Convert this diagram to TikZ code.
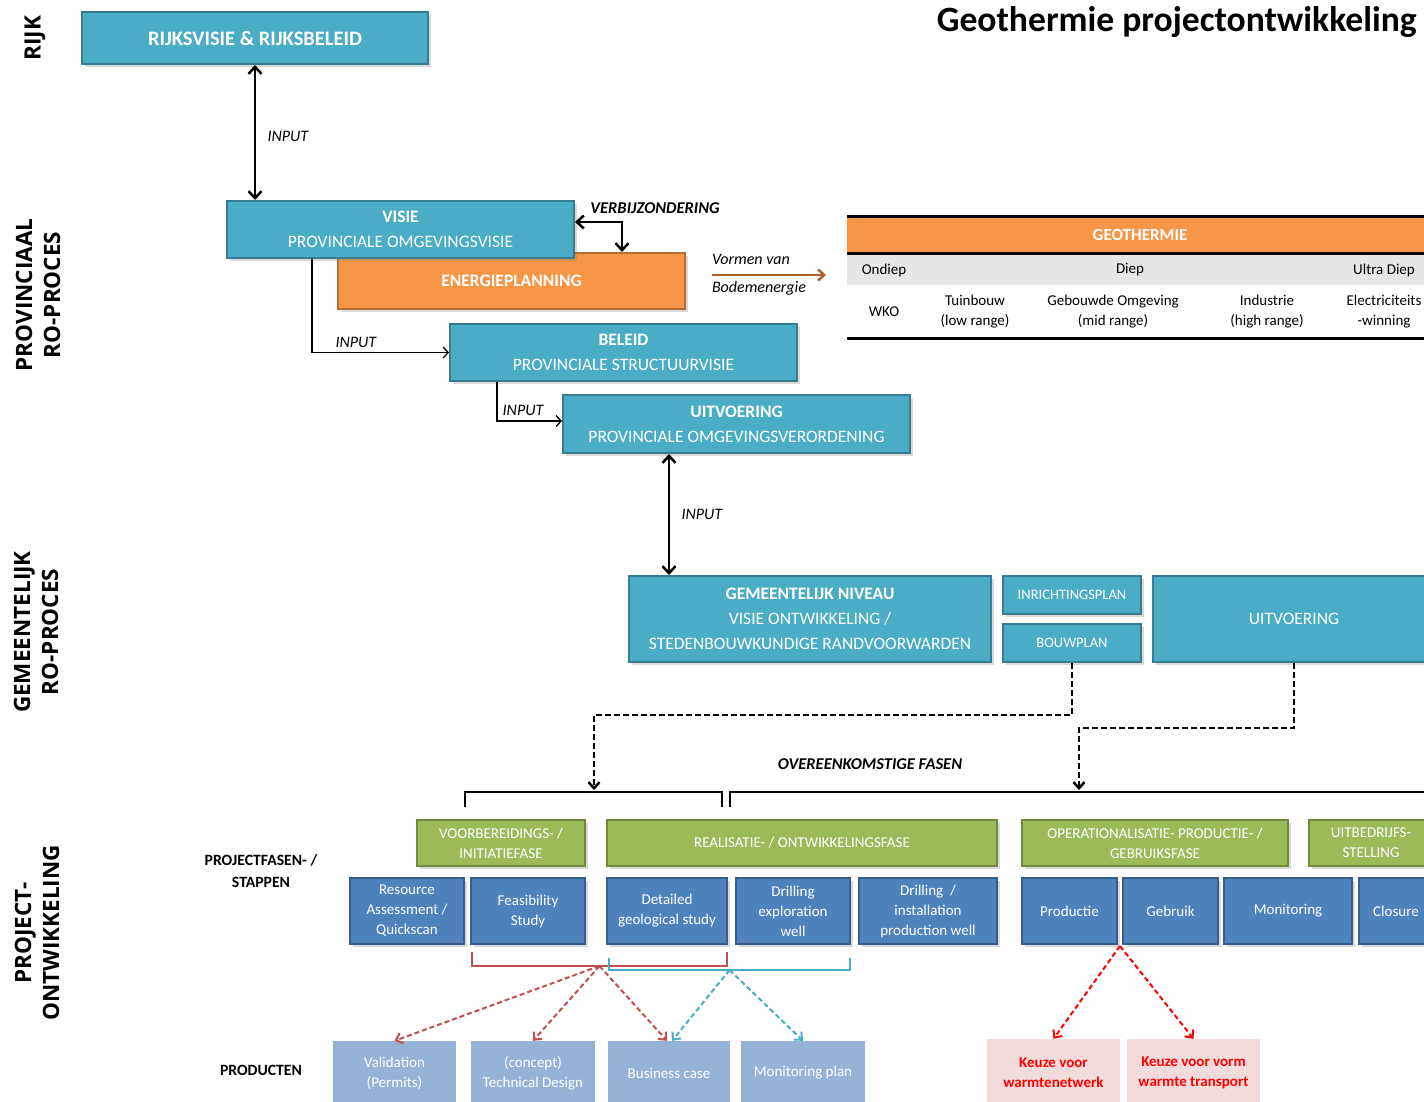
\documentclass[tikz,border=0pt]{standalone}
\usepackage{fontspec}
\setmainfont{Carlito}
\newfontfamily\sidefont{Open Sans}
\usepackage{tikz}
\usetikzlibrary{arrows.meta, shadows}

\definecolor{tealfill}{HTML}{4BACC6}
\definecolor{tealline}{HTML}{357D91}
\definecolor{orangefill}{HTML}{F79646}
\definecolor{orangeline}{HTML}{B66D31}
\definecolor{greenfill}{HTML}{9BBB59}
\definecolor{greenline}{HTML}{71893F}
\definecolor{bluefill}{HTML}{4F81BD}
\definecolor{blueline}{HTML}{385D8A}
\definecolor{prodfill}{HTML}{95B3D7}
\definecolor{keuzefill}{HTML}{F2DCDB}
\definecolor{redbrk}{HTML}{C0504D}
\definecolor{bodem}{HTML}{B0602A}
\definecolor{greyrow}{HTML}{E6E6E6}

\newcommand{\pxfont}[2]{\fontsize{#1}{#2}\selectfont}

\begin{document}
\begin{tikzpicture}[
  x=1pt, y=-1pt,
  box/.style={draw, line width=2pt, inner sep=0pt, align=center, text=white,
    drop shadow={shadow xshift=2.5pt, shadow yshift=-2.5pt, opacity=0.3}},
  tealbox/.style={box, fill=tealfill, draw=tealline, font=\pxfont{17.5}{25}},
  orangebox/.style={box, fill=orangefill, draw=orangeline, font=\bfseries\pxfont{17.5}{25}},
  fasebox/.style={box, fill=greenfill, draw=greenline, minimum height=46pt, font=\pxfont{15}{20}},
  stapbox/.style={box, fill=bluefill, draw=blueline, minimum height=66pt, font=\pxfont{15}{20}},
  prodbox/.style={fill=prodfill, inner sep=0pt, align=center, text=white, minimum height=64pt, font=\pxfont{15}{20}},
  keuzebox/.style={fill=keuzefill, inner sep=0pt, align=center, text=red, minimum height=68pt, font=\bfseries\pxfont{15}{20}},
  side/.style={rotate=90, align=center, font=\sidefont\bfseries\pxfont{22.5}{28}},
  lbl/.style={font=\itshape\pxfont{16}{20}},
  rowlbl/.style={align=center, font=\bfseries\pxfont{15.7}{22}},
  cell/.style={align=center, font=\pxfont{15}{20}},
  dblarrow/.style={{Straight Barb[length=7pt,width=13pt]}-{Straight Barb[length=7pt,width=13pt]}, line width=2.5pt},
  inputarrow/.style={-{Straight Barb[length=5pt,width=11pt]}, line width=1.3pt},
  dasharrow/.style={-{Straight Barb[length=6pt,width=11pt]}, line width=2.5pt, dash pattern=on 6pt off 3pt},
  reddash/.style={-{Straight Barb[length=6pt,width=11pt]}, line width=2pt, dash pattern=on 5pt off 3pt, draw=redbrk},
  bluedash/.style={reddash, draw=tealfill},
  keuzedash/.style={reddash, draw=red},
]
\clip (0,0) rectangle (1424,1101);

% Title
\node[anchor=east, inner sep=0pt, font=\bfseries\pxfont{35.6}{40}] (title) at (1417,22) {Geothermie projectontwikkeling};

% Side labels
\node[side] (rijklbl) at (35,38) {RIJK};
\node[side] (provlbl) at (38,295) {PROVINCIAAL\\RO-PROCES};
\node[side] (gemlbl) at (36,632) {GEMEENTELIJK\\RO-PROCES};
\node[side] (projlbl) at (37,933) {PROJECT-\\ONTWIKKELING};

% Rijk and provincie
\node[tealbox, minimum width=346pt, minimum height=52pt, font=\bfseries\pxfont{20.5}{25}] (rijk) at (255,38) {RIJKSVISIE \& RIJKSBELEID};
\node[orangebox, minimum width=347pt, minimum height=56pt] (energie) at (511.5,281) {ENERGIEPLANNING};
\node[tealbox, minimum width=347pt, minimum height=57pt] (visie) at (400.5,229.5) {\textbf{VISIE}\\PROVINCIALE OMGEVINGSVISIE};
\node[tealbox, minimum width=347pt, minimum height=57pt] (beleid) at (623.5,352.5) {\textbf{BELEID}\\PROVINCIALE STRUCTUURVISIE};
\node[tealbox, minimum width=347pt, minimum height=58pt] (uitv) at (736.5,424) {\textbf{UITVOERING}\\PROVINCIALE OMGEVINGSVERORDENING};

% Gemeente
\node[tealbox, minimum width=362pt, minimum height=86pt] (gem) at (810,619) {\textbf{GEMEENTELIJK NIVEAU}\\VISIE ONTWIKKELING /\\STEDENBOUWKUNDIGE RANDVOORWARDEN};
\node[tealbox, minimum width=138pt, minimum height=38pt, font=\pxfont{14.5}{18}] (inr) at (1072,595) {INRICHTINGSPLAN};
\node[tealbox, minimum width=138pt, minimum height=38pt, font=\pxfont{14.5}{18}] (bouw) at (1072,643) {BOUWPLAN};
\node[tealbox, minimum width=282pt, minimum height=86pt] (uitv2) at (1294,619) {UITVOERING};

% Arrows
\draw[dblarrow] (rijk.south) -- (rijk.south |- visie.north) node[lbl, pos=0.53, right=8pt] (in1) {INPUT};
\draw[dblarrow] ([yshift=7.5pt]visie.east) -| ([xshift=110.5pt]energie.north);
\node[font=\bfseries\itshape\pxfont{16.5}{20}] (verb) at (655,208) {VERBIJZONDERING};
\draw[inputarrow] ([xshift=-88.5pt]visie.south) |- (beleid.west) node[lbl, pos=0.66, above=1pt] (in2) {INPUT};
\draw[inputarrow] ([xshift=-126.5pt]beleid.south) |- ([yshift=3pt]uitv.west) node[lbl, pos=0.7, above=1pt] (in3) {INPUT};
\draw[dblarrow] ([xshift=-67.5pt]uitv.south) -- ([xshift=-67.5pt]uitv.south |- gem.north) node[lbl, midway, right=8pt] (in4) {INPUT};

% Vormen van bodemenergie
\coordinate (bodemA) at (712,275);
\coordinate (bodemB) at (826,275);
\draw[-{Straight Barb[length=6pt,width=11pt]}, line width=2.5pt, bodem] (bodemA) -- (bodemB);
\node[lbl] (vormen) at (751,259) {Vormen van};
\node[lbl] (bodemlbl) at (759,288) {Bodemenergie};

% Geothermie table
\fill[orangefill] (847,217) rectangle (1440,253);
\fill[greyrow] (847,254) rectangle (1440,285);
\draw[line width=3pt] (847,216) -- (1440,216);
\draw[line width=3pt] (847,253) -- (1440,253);
\draw[line width=3pt] (847,338) -- (1440,338);
\node[font=\bfseries\pxfont{17}{20}, text=white] (geo) at (1140,235) {GEOTHERMIE};
\node[cell] (ondiep) at (884,270) {Ondiep};
\node[cell] (diep) at (1130,270) {Diep};
\node[cell] (ultra) at (1384,270) {Ultra Diep};
\node[cell] (wko) at (884,312) {WKO};
\node[cell] (tuin) at (975,312) {Tuinbouw\\(low range)};
\node[cell] (gebouwd) at (1113,312) {Gebouwde Omgeving\\(mid range)};
\node[cell] (industrie) at (1267,312) {Industrie\\(high range)};
\node[cell] (elec) at (1384,312) {Electriciteits\\-winning};

% Overeenkomstige fasen
\coordinate (faseL) at (594,790);
\coordinate (faseR) at (1079,790);
\draw[dasharrow] (bouw.south) -- ++(0,52) -| (faseL);
\draw[dasharrow] (uitv2.south) -- ++(0,65) -| (faseR);
\node[font=\bfseries\itshape\pxfont{16.5}{20}] (overeen) at (870,764) {OVEREENKOMSTIGE FASEN};
\draw[line width=2.5pt] (465,807) -- (465,792) -- (722,792) -- (722,807);
\draw[line width=2.5pt] (730,807) -- (730,792) -- (1440,792);

% Projectfasen
\node[rowlbl] (faselbl) at (261,871) {PROJECTFASEN- /\\STAPPEN};
\node[fasebox, minimum width=168pt] (voorb) at (501,843) {VOORBEREIDINGS- /\\INITIATIEFASE};
\node[fasebox, minimum width=390pt] (real) at (802,843) {REALISATIE- / ONTWIKKELINGSFASE};
\node[fasebox, minimum width=266pt] (oper) at (1155,843) {OPERATIONALISATIE- PRODUCTIE- /\\GEBRUIKSFASE};
\node[fasebox, minimum width=124pt] (uitbedr) at (1371,843) {UITBEDRIJFS-\\STELLING};

% Stappen
\node[stapbox, minimum width=114pt] (res) at (407,911) {Resource\\Assessment /\\Quickscan};
\node[stapbox, minimum width=114pt] (feas) at (528,911) {Feasibility\\Study};
\node[stapbox, minimum width=120pt] (det) at (667,911) {Detailed\\geological study};
\node[stapbox, minimum width=114pt] (drill1) at (793,911) {Drilling\\exploration\\well};
\node[stapbox, minimum width=138pt] (drill2) at (928,911) {Drilling~ /\\installation\\production well};
\node[stapbox, minimum width=95pt] (prod) at (1069.5,911) {Productie};
\node[stapbox, minimum width=95pt] (gebr) at (1170.5,911) {Gebruik};
\node[stapbox, minimum width=128pt] (mon) at (1288,911) {Monitoring};
\node[stapbox, minimum width=74pt] (clos) at (1396,911) {Closure};

% Producten
\node[rowlbl] (prodlbl) at (261,1070) {PRODUCTEN};
\node[prodbox, minimum width=123pt] (valid) at (394.5,1073) {Validation\\(Permits)};
\node[prodbox, minimum width=124pt] (tech) at (533,1073) {(concept)\\Technical Design};
\node[prodbox, minimum width=122pt] (bus) at (669,1073) {Business case};
\node[prodbox, minimum width=124pt] (monp) at (803,1073) {Monitoring plan};
\node[keuzebox, minimum width=133pt] (keuze1) at (1053.5,1073) {Keuze voor\\warmtenetwerk};
\node[keuzebox, minimum width=133pt] (keuze2) at (1193.5,1073) {Keuze voor vorm\\warmte transport};

% Brackets and dashed links
\coordinate (redmid) at (599.5,966);
\coordinate (bluemid) at (729.5,970);
\draw[redbrk, line width=2pt] (472,952) |- (redmid) -| (727,952);
\draw[tealfill, line width=2pt] (609,958) |- (bluemid) -| (850,958);
\draw[reddash] (redmid) -- (valid.north);
\draw[reddash] (redmid) -- (tech.north);
\draw[reddash] (redmid) -- ([xshift=-2pt]bus.north);
\draw[bluedash] (bluemid) -- ([xshift=3pt]bus.north);
\draw[bluedash] (bluemid) -- (monp.north);
\coordinate (kmid) at (1120,946);
\draw[keuzedash] (kmid) -- (keuze1.north);
\draw[keuzedash] (kmid) -- (keuze2.north);

\end{tikzpicture}
\end{document}
